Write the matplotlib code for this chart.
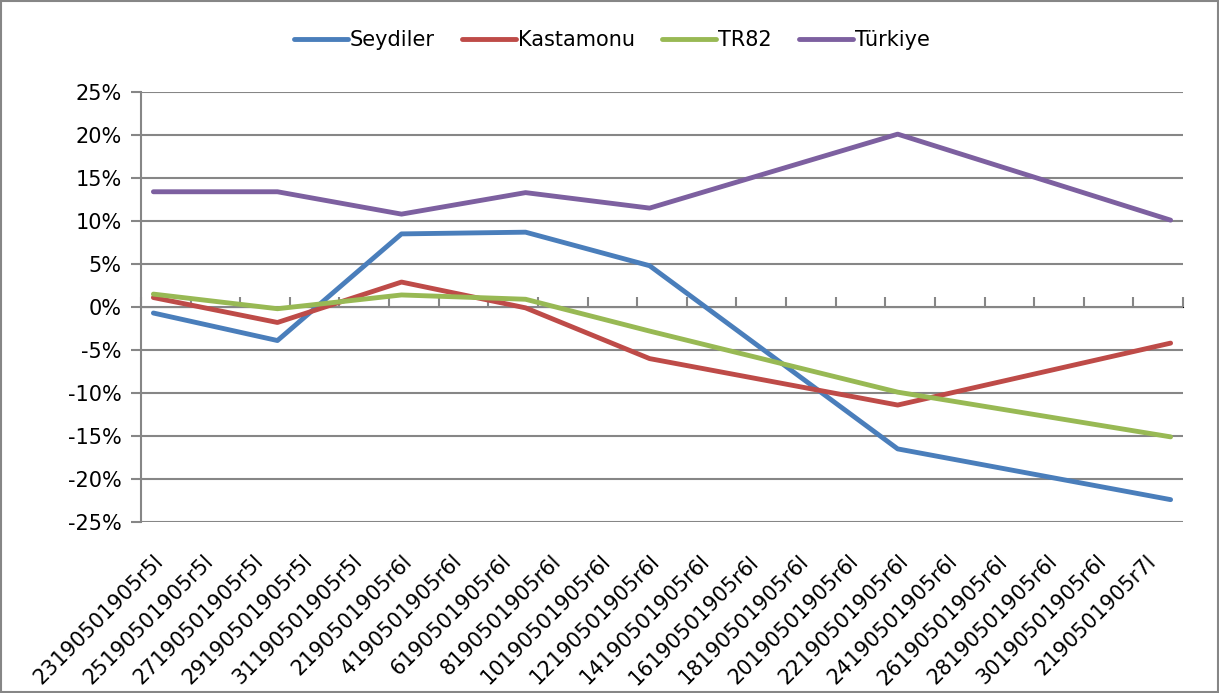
import numpy as np
import pandas as pd
import matplotlib
matplotlib.use('Agg')
import matplotlib.pyplot as plt
from matplotlib.patches import Rectangle

plt.rcParams['font.family'] = 'DejaVu Sans'
plt.rcParams['font.size'] = 15

# Data (percent change)
start_date  = '2019-05-23'
point_dates = ['2019-05-23', '2019-05-28', '2019-06-02', '2019-06-07',
               '2019-06-12', '2019-06-22', '2019-07-03']
seydiler  = [-0.7, -3.9, 8.5, 8.7, 4.8, -16.5, -22.4]
kastamonu = [1.1, -1.8, 2.9, -0.1, -6.0, -11.4, -4.2]
tr82      = [1.5, -0.2, 1.4, 0.9, -2.8, -9.9, -15.1]
turkiye   = [13.4, 13.4, 10.8, 13.3, 11.5, 20.1, 10.1]

tick_labels = ['23190501905r5l', '25190501905r5l', '27190501905r5l', '29190501905r5l',
               '31190501905r5l', '2190501905r6l', '4190501905r6l', '6190501905r6l',
               '8190501905r6l', '10190501905r6l', '12190501905r6l', '14190501905r6l',
               '16190501905r6l', '18190501905r6l', '20190501905r6l', '22190501905r6l',
               '24190501905r6l', '26190501905r6l', '28190501905r6l', '30190501905r6l',
               '2190501905r7l']
y_ticks = [-25, -20, -15, -10, -5, 0, 5, 10, 15, 20, 25]

series = [('Seydiler', seydiler, '#4A7EBB'),
          ('Kastamonu', kastamonu, '#BE4B48'),
          ('TR82', tr82, '#98B954'),
          ('Türkiye', turkiye, '#7D60A0')]

grey = '#868686'

# day offsets from the first label date
x = (pd.to_datetime(point_dates) - pd.Timestamp(start_date)).days.to_numpy()
label_pos = np.arange(len(tick_labels)) * 2
bounds = np.arange(len(tick_labels) + 1) * 2 - 0.5

fig = plt.figure(figsize=(12.19, 6.93), dpi=100)
ax = fig.add_axes([141/1219, 1 - 522/693, (1183 - 141)/1219, (522 - 92)/693])

for name, vals, color in series:
    ax.plot(x, vals, color=color, lw=3.5, label=name, solid_capstyle='round',
            solid_joinstyle='round', zorder=3)

ax.set_xlim(bounds[0], bounds[-1])
ax.set_ylim(y_ticks[0], y_ticks[-1])
ax.set_yticks(y_ticks)
ax.set_yticklabels([f'{v}%' for v in y_ticks])
ax.yaxis.grid(True, color=grey, lw=1.5)
ax.set_axisbelow(True)
ax.tick_params(axis='y', direction='out', length=7, width=1.5, color=grey, pad=7)

for s in ['top', 'right', 'bottom']:
    ax.spines[s].set_visible(False)
ax.spines['left'].set_color(grey)
ax.spines['left'].set_linewidth(1.5)

# labels along the bottom of the plot area
ax.set_xticks(label_pos)
ax.set_xticklabels(tick_labels, rotation=45, ha='right', va='top', rotation_mode='anchor')
ax.tick_params(axis='x', length=0, pad=21)

# category axis crossing at 0 with tick marks
zero_loc = (0 - y_ticks[0]) / (y_ticks[-1] - y_ticks[0])
sec = ax.secondary_xaxis(zero_loc)
sec.set_xticks(bounds, labels=[''] * len(bounds))
sec.tick_params(axis='x', direction='out', length=7, width=1.5, color=grey)
sec.spines['bottom'].set_color(grey)
sec.spines['bottom'].set_linewidth(1.5)

leg = fig.legend(loc='center', bbox_to_anchor=(0.502, 1 - 40/693), ncol=4, frameon=False,
                 handlelength=2.6, handletextpad=0.1, columnspacing=1.3, fontsize=15)

fig.patches.append(Rectangle((0.001, 0.001), 0.998, 0.997, transform=fig.transFigure,
                             fill=False, edgecolor=grey, lw=1.5))

fig.savefig('out.png', dpi=100)
